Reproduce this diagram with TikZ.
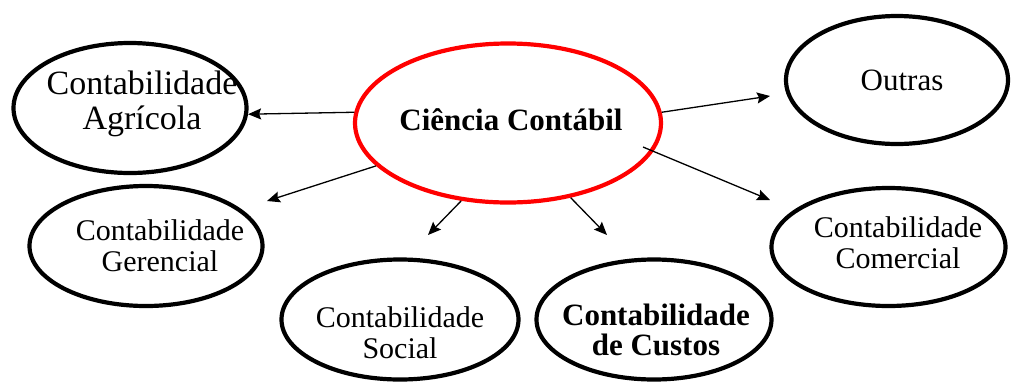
\documentclass[tikz,border=0pt]{standalone}
\usepackage{fontspec}
\setmainfont{Liberation Serif}
\usetikzlibrary{shapes.geometric,arrows.meta}

\tikzset{
	bubble/.style={ellipse, draw, line width=2.1pt},
	txt/.style={align=center, font=\fontsize{15}{15.5}\selectfont},
	arr/.style={-{Stealth[length=6.5pt,width=5.5pt,inset=1pt]}, line width=0.65pt}
}

\begin{document}
\begin{tikzpicture}[x=0.5pt, y=-0.5pt]
		\useasboundingbox (0,0) rectangle (1013,381);

		\node[bubble, draw=red, minimum width=153pt, minimum height=79.5pt,
			label={[txt, font=\fontsize{15.5}{17}\selectfont\bfseries, xshift=1.5pt, yshift=1.5pt]center:Ciência Contábil}] (ciencia) at (508,123) {};

		\node[bubble, minimum width=116.5pt, minimum height=65pt,
			label={[txt, font=\fontsize{17}{17.5}\selectfont, xshift=6pt, yshift=2pt]center:Contabilidade\\Agrícola}] (agricola) at (130,108) {};
		\node[bubble, minimum width=111pt, minimum height=64pt,
			label={[txt, font=\fontsize{15.5}{16}\selectfont, xshift=2.5pt]center:Outras}] (outras) at (897,80) {};
		\node[bubble, minimum width=116.5pt, minimum height=60pt,
			label={[txt, xshift=7pt]center:Contabilidade\\Gerencial}] (gerencial) at (146,246) {};
		\node[bubble, minimum width=117pt, minimum height=59pt,
			label={[txt, xshift=4.75pt, yshift=2pt]center:Contabilidade\\Comercial}] (comercial) at (888.5,247) {};
		\node[bubble, minimum width=118.5pt, minimum height=60pt,
			label={[txt, yshift=-6.75pt]center:Contabilidade\\Social}] (social) at (400,319.5) {};
		\node[bubble, minimum width=117.5pt, minimum height=60pt,
			label={[txt, font=\fontsize{15.5}{15}\selectfont\bfseries, xshift=1pt, yshift=-5pt]center:Contabilidade\\de Custos}] (custos) at (654,319.5) {};

		% loose arrow ends
		\coordinate (outrasTip) at (770,96);
		\coordinate (comercialFrom) at (643,147);
		\coordinate (comercialTip) at (770,200);
		\coordinate (gerencialTip) at (267,201);
		\coordinate (socialTip) at (428,235);
		\coordinate (custosTip) at (607,235);

		\draw[arr] (ciencia.176) -- (agricola.-3);
		\draw[arr] (ciencia.4) -- (outrasTip);
		\draw[arr] (comercialFrom) -- (comercialTip);
		\draw[arr] (ciencia.198) -- (gerencialTip);
		\draw[arr] (ciencia.239) -- (socialTip);
		\draw[arr] (ciencia.-50) -- (custosTip);
	\end{tikzpicture}
\end{document}
